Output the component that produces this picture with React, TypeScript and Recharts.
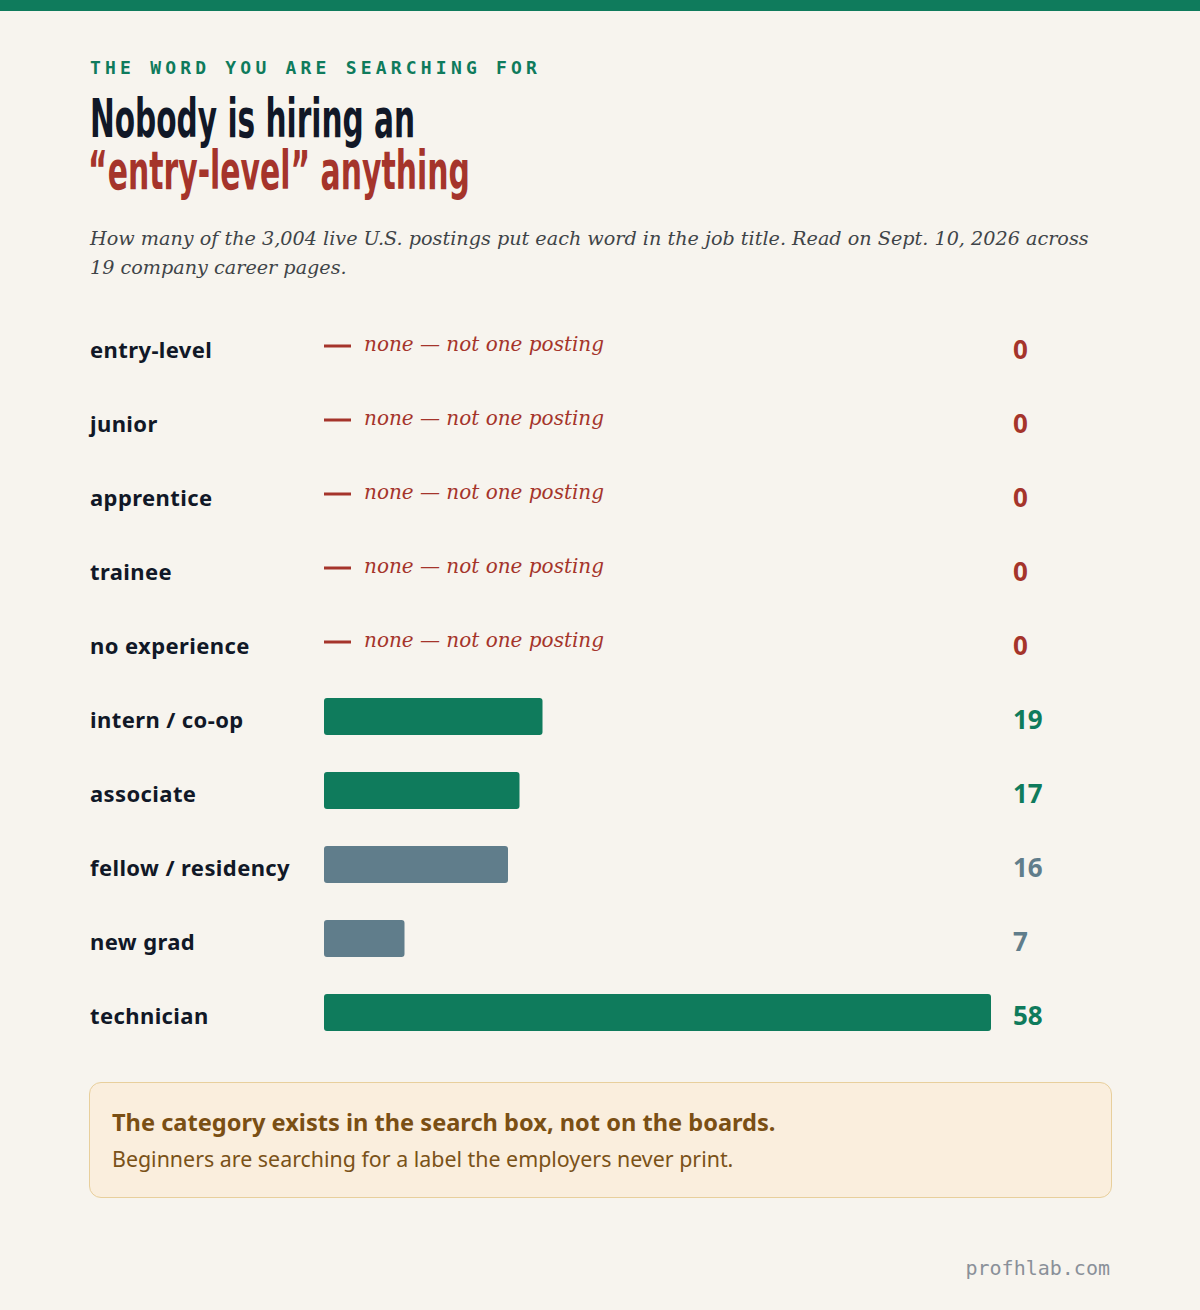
import React from 'react';
import { BarChart, Bar, XAxis, YAxis, Cell } from 'recharts';

const CATEGORIES = ['entry-level', 'junior', 'apprentice', 'trainee', 'no experience', 'intern / co-op', 'associate', 'fellow / residency', 'new grad', 'technician'];
const COUNTS = [0, 0, 0, 0, 0, 19, 17, 16, 7, 58];
const TONES = ['none', 'none', 'none', 'none', 'none', 'green', 'green', 'slate', 'slate', 'green'];
const X_MAX = 58;
const NONE_TEXT = 'none — not one posting';

const EYEBROW = 'THE WORD YOU ARE SEARCHING FOR';
const TITLE_1 = 'Nobody is hiring an';
const TITLE_2 = '“entry-level” anything';
const SUBTITLE_1 = 'How many of the 3,004 live U.S. postings put each word in the job title. Read on Sept. 10, 2026 across';
const SUBTITLE_2 = '19 company career pages.';
const CALLOUT_HEAD = 'The category exists in the search box, not on the boards.';
const CALLOUT_BODY = 'Beginners are searching for a label the employers never print.';
const FOOTER = 'profhlab.com';

const COLORS: Record<string, string> = {
  green: '#0f7b5c',
  slate: '#607d8b',
  none: '#a5342b',
};

const BG = '#f7f4ee';
const INK = '#111827';
const SANS = '"Noto Sans", "Open Sans", sans-serif';
const SERIF = '"DejaVu Serif", "Liberation Serif", serif';
const MONO = '"DejaVu Sans Mono", "Liberation Mono", monospace';
const COND = '"Liberation Sans Narrow", "DejaVu Sans Condensed", sans-serif';

const data = CATEGORIES.map((name, i) => ({ name, count: COUNTS[i], tone: TONES[i] }));

const LABEL_X = 90;
const PLOT_LEFT = 324;
const VALUE_X = 1013;

const CategoryTick = (props: any) => {
  const { y, payload } = props;
  const index = props.index ?? payload.index;
  const count = COUNTS[index];
  const color = COLORS[TONES[index]];
  return (
    <g>
      <text x={LABEL_X} y={y} dy={12} fill={INK} fontFamily={SANS} fontWeight={700} fontSize={22} style={{ letterSpacing: '0.4px' }}>
        {payload.value}
      </text>
      {count === 0 && (
        <g>
          <rect x={PLOT_LEFT} y={y - 1.5} width={27} height={3} fill={COLORS.none} />
          <text x={PLOT_LEFT + 40} y={y + 5} fill={COLORS.none} fontFamily={SERIF} fontStyle="italic" fontSize={20}>
            {NONE_TEXT}
          </text>
        </g>
      )}
      <text x={VALUE_X} y={y} dy={13} fill={color} fontFamily={SANS} fontWeight={700} fontSize={26}>
        {count}
      </text>
    </g>
  );
};

export default function App() {
  return (
    <div style={{ position: 'absolute', left: 0, top: 0, width: 1200, height: 1310, background: BG, overflow: 'hidden' }}>
      <div style={{ position: 'absolute', left: 0, top: 0, width: 1200, height: 11, background: COLORS.green }} />
      <svg style={{ position: 'absolute', left: 0, top: 0 }} width={1200} height={300}>
        <text x={90} y={74} fill={COLORS.green} fontFamily={MONO} fontWeight={700} fontSize={18} style={{ letterSpacing: '4.2px' }}>
          {EYEBROW}
        </text>
        <text x={90} y={137} fill={INK} fontFamily={COND} fontWeight={700} fontSize={54} textLength={325} lengthAdjust="spacingAndGlyphs">
          {TITLE_1}
        </text>
        <text x={88} y={189} fill={COLORS.none} fontFamily={COND} fontWeight={700} fontSize={54} textLength={382} lengthAdjust="spacingAndGlyphs">
          {TITLE_2}
        </text>
        <text x={90} y={245} fill="#3f4448" fontFamily={SERIF} fontStyle="italic" fontSize={19.2}>
          {SUBTITLE_1}
        </text>
        <text x={90} y={274} fill="#3f4448" fontFamily={SERIF} fontStyle="italic" fontSize={19.2}>
          {SUBTITLE_2}
        </text>
      </svg>
      <div style={{ position: 'absolute', left: 0, top: 309 }}>
        <BarChart width={1200} height={740} data={data} layout="vertical" margin={{ top: 0, right: 209, bottom: 0, left: 0 }}>
          <XAxis type="number" domain={[0, X_MAX]} hide />
          <YAxis type="category" dataKey="name" width={PLOT_LEFT} axisLine={false} tickLine={false} tick={<CategoryTick />} interval={0} />
          <Bar dataKey="count" barSize={37} radius={3} isAnimationActive={false}>
            {data.map((d, i) => (
              <Cell key={i} fill={COLORS[d.tone]} />
            ))}
          </Bar>
        </BarChart>
      </div>
      <div
        style={{
          position: 'absolute',
          left: 89,
          top: 1082,
          width: 1023,
          height: 116,
          boxSizing: 'border-box',
          background: '#faeedd',
          border: '1px solid #e8cf9c',
          borderRadius: 12,
        }}
      />
      <svg style={{ position: 'absolute', left: 0, top: 1060 }} width={1200} height={250}>
        <text x={112} y={71} fill="#7a4f14" fontFamily={SANS} fontWeight={700} fontSize={23.6}>
          {CALLOUT_HEAD}
        </text>
        <text x={112} y={107} fill="#7a5218" fontFamily={SANS} fontSize={21.4}>
          {CALLOUT_BODY}
        </text>
        <text x={1110} y={215} textAnchor="end" fill="#8a9099" fontFamily={MONO} fontSize={20}>
          {FOOTER}
        </text>
      </svg>
    </div>
  );
}
